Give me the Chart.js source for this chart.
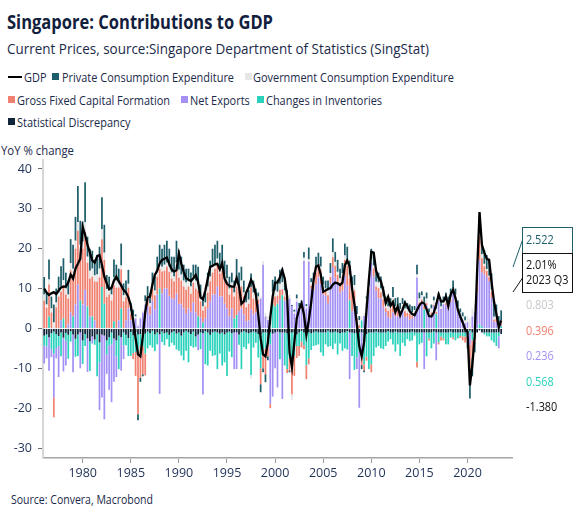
<!DOCTYPE html>
<html>
<head>
<meta charset="utf-8">
<title>Singapore: Contributions to GDP</title>
<script src="https://cdn.jsdelivr.net/npm/chart.js@4.4.1/dist/chart.umd.min.js"></script>
<style>
  html, body { margin: 0; padding: 0; background: #fff; }
  body { width: 580px; height: 519px; position: relative; overflow: hidden;
         font-family: "Open Sans", sans-serif; color: #1b2a4a; }
  .txt { position: absolute; white-space: nowrap; line-height: 1.2; font-size: 13.5px; transform-origin: 0 50%; }
  #title { font-weight: 700; color: #12203d; font-size: 19px; }
  #subtitle { font-size: 15px; }
  #source { font-size: 12px; }
  .sw { position: absolute; width: 7px; height: 7px; }
  .ln { position: absolute; width: 14px; height: 2px; background: #000; }
  #wrap { position: absolute; left: 0; top: 145px; width: 580px; height: 345px; }
</style>
</head>
<body>
<div id="title" class="txt">Singapore: Contributions to GDP</div>
<div id="subtitle" class="txt">Current Prices, source:Singapore Department of Statistics (SingStat)</div>
<div id="unit" class="txt">YoY % change</div>
<div id="source" class="txt">Source: Convera, Macrobond</div>
<div id="legend"></div>
<div id="wrap"><canvas id="chart" width="580" height="345"></canvas></div>

<script>
// quarterly data, 1976 Q1 .. 2023 Q3 (one line per year)
const firstYear = 1976;
const axisQuarters = 195;   // axis runs on to 2024 Q3
const yearTicks = ['1980', '1985', '1990', '1995', '2000', '2005', '2010', '2015', '2020'];
const yTickValues = [-30, -20, -10, 0, 10, 20, 30, 40];

const gdpGrowth = [
  10.0, 9.0, 8.4, 8.8,
  9.1, 8.6, 9.5, 10.3,
  10.5, 10.5, 11.5, 13.5,
  12.5, 15.0, 16.2, 17.5,
  25.5, 23.5, 21.0, 19.0,
  17.0, 16.5, 18.1, 18.4,
  16.0, 13.0, 11.3, 9.8,
  10.2, 12.0, 13.0, 11.8,
  10.8, 9.6, 9.0, 7.8,
  5.8, 2.0, -2.5, -6.5,
  -7.0, -2.0, 4.0, 7.8,
  8.0, 11.0, 13.4, 14.5,
  16.3, 17.2, 17.5, 17.8,
  16.2, 14.8, 14.3, 14.6,
  18.8, 16.3, 14.2, 12.6,
  12.2, 11.9, 12.6, 13.4,
  11.6, 7.8, 7.3, 9.5,
  12.5, 15.4, 15.7, 16.1,
  16.2, 14.8, 16.4, 12.5,
  11.2, 10.7, 10.5, 10.5,
  12.6, 10.5, 6.2, 6.8,
  9.0, 10.4, 12.2, 11.0,
  8.5, 3.5, -2.5, -6.5,
  -7.0, -3.5, 2.8, 8.0,
  11.5, 11.5, 12.8, 14.6,
  12.5, 8.0, -6.0, -9.7,
  -3.5, 2.5, 4.8, 6.3,
  3.5, -1.6, 2.0, 6.5,
  12.2, 15.5, 15.8, 13.5,
  9.2, 9.5, 9.9, 10.1,
  11.0, 11.5, 11.3, 10.9,
  11.5, 15.8, 17.0, 15.5,
  10.0, 6.0, 1.0, -4.5,
  -7.0, -3.5, 4.5, 12.3,
  19.2, 19.0, 14.5, 12.8,
  11.8, 9.5, 6.4, 7.9,
  5.7, 6.6, 4.1, 5.5,
  3.3, 4.7, 6.4, 5.6,
  4.3, 3.6, 3.3, 4.6,
  5.8, 6.5, 6.3, 4.8,
  3.1, 3.0, 4.0, 6.0,
  8.5, 6.8, 6.8, 8.0,
  5.6, 8.5, 9.7, 7.6,
  4.7, 3.0, 1.5, -0.2,
  -0.9, -14.3, -9.2, -2.0,
  14.5, 29.2, 21.0, 19.0,
  17.5, 17.2, 11.7, 6.8,
  3.7, 0.2, 2.01
];

const privateConsumption = [
  4.4, 3.0, 5.0, 3.0,
  4.5, 3.5, 4.0, 5.0,
  5.5, 4.0, 3.5, 6.0,
  6.0, 6.0, 9.0, 6.0,
  5.0, 10.0, 5.0, 5.5,
  4.5, 4.0, 5.0, 5.5,
  8.0, 7.0, 3.5, 3.0,
  2.0, 4.5, 4.0, 3.5,
  5.5, 3.0, 3.0, 3.5,
  2.0, 1.5, 0.5, -1.5,
  -1.0, -0.5, 1.5, 2.5,
  2.5, 3.0, 3.5, 4.0,
  4.5, 4.5, 5.0, 5.5,
  4.5, 4.0, 5.0, 5.5,
  5.0, 4.5, 4.0, 3.5,
  3.0, 3.5, 3.0, 4.0,
  4.5, 3.0, 2.5, 2.5,
  3.5, 4.0, 4.5, 5.0,
  4.5, 4.0, 5.0, 3.5,
  3.5, 3.0, 2.5, 3.0,
  5.5, 3.5, 3.5, 3.0,
  2.5, 2.5, 3.5, 3.0,
  2.0, 1.0, -2.0, -1.0,
  -2.0, -1.0, 2.0, 3.0,
  3.5, 3.0, 3.5, 3.5,
  2.5, 2.0, -0.5, 0.3,
  0.5, 1.0, 1.0, 1.5,
  1.5, 0.5, 3.0, 1.0,
  2.0, 3.0, 3.0, 2.5,
  2.0, 2.0, 2.5, 2.5,
  3.5, 2.5, 3.0, 2.5,
  2.5, 3.0, 3.5, 3.5,
  3.0, 2.5, 2.0, 1.0,
  -1.0, -0.5, 0.5, 1.5,
  2.5, 3.0, 3.0, 2.5,
  3.0, 2.5, 2.0, 2.5,
  2.0, 2.5, 2.0, 2.0,
  1.5, 1.5, 2.0, 1.5,
  1.5, 1.5, 1.0, 2.5,
  1.5, 1.0, 1.5, 1.5,
  1.0, 1.0, 1.0, 1.5,
  1.5, 1.5, 1.5, 2.0,
  1.5, 2.0, 2.0, 1.5,
  1.5, 1.0, 1.0, 1.0,
  -1.5, -7.5, -4.5, -2.5,
  1.0, 5.0, 3.0, 3.5,
  3.5, 4.0, 4.0, 3.5,
  3.0, 2.0, 2.522
];

const governmentConsumption = [
  1.5, 0.8, 1.3, 1.0,
  1.5, 1.2, 1.0, 1.4,
  1.2, 1.5, 1.0, 1.8,
  1.5, 2.0, 2.2, 2.0,
  1.8, 2.5, 1.5, 2.0,
  2.0, 1.5, 1.8, 2.2,
  2.5, 1.8, 2.0, 1.5,
  1.5, 2.0, 1.8, 1.2,
  1.0, 1.5, 1.2, 1.0,
  0.8, 0.6, 0.5, 0.5,
  0.4, 0.5, 0.8, 0.6,
  0.8, 1.0, 1.2, 1.0,
  1.5, 1.2, 1.5, 1.0,
  1.3, 1.5, 1.2, 1.8,
  2.0, 1.5, 1.5, 1.8,
  1.5, 1.8, 1.5, 2.0,
  1.5, 1.2, 1.0, 1.0,
  1.5, 1.2, 1.5, 1.0,
  1.5, 1.2, 1.5, 1.3,
  1.0, 1.5, 1.2, 1.0,
  1.5, 1.2, 1.5, 1.0,
  1.2, 1.0, -1.0, 1.5,
  1.0, 0.8, 0.5, 0.9,
  0.9, 1.0, 1.0, 1.2,
  1.5, 1.0, 1.5, 1.8,
  1.5, 1.2, 1.0, -1.5,
  0.5, 0.8, 1.0, 0.6,
  0.8, 0.6, 0.5, 0.9,
  0.8, 1.0, 0.7, 0.9,
  1.0, 0.8, 1.2, 1.0,
  1.2, 1.0, 0.8, 1.0,
  0.9, 1.1, 1.3, 1.0,
  1.2, 1.4, 1.0, 1.3,
  1.0, 0.8, 1.2, 1.0,
  1.0, 0.8, 1.2, 1.4,
  1.0, 0.7, 0.9, 1.1,
  0.6, 0.9, 1.0, 0.8,
  0.9, 0.8, 0.7, 1.0,
  0.8, 1.0, 0.9, 0.7,
  1.0, 1.1, 0.9, 1.2,
  0.9, 1.0, 1.1, 0.8,
  0.5, 0.6, 0.4, 0.7,
  0.6, 0.8, 0.5, 0.9,
  0.8, 0.6, 0.9, 0.7,
  1.5, 2.5, 2.0, 1.8,
  1.2, 0.9, 1.0, 0.6,
  0.5, 0.3, 0.6, 0.7,
  0.5, 0.6, 0.803
];

const grossFixedCapital = [
  7.0, 5.2, 8.0, 4.0,
  -5.0, 5.3, 8.0, 7.2,
  8.4, 8.5, 6.5, 10.6,
  10.5, 14.0, 13.5, 12.0,
  14.0, 14.5, 11.0, 9.5,
  10.0, 9.8, 11.7, 12.8,
  12.0, 11.0, 7.9, 8.5,
  7.0, 9.0, 10.2, 8.3,
  9.8, 6.8, 5.8, 5.2,
  1.6, -1.5, -6.0, -15.0,
  -8.0, -7.0, -5.5, 2.0,
  2.0, 3.0, 3.5, 4.5,
  5.0, 5.5, 4.5, 5.5,
  6.0, 5.0, 4.5, 6.0,
  6.5, 6.0, 5.5, 6.0,
  5.5, 4.5, 5.0, 6.0,
  6.5, 4.0, 3.0, 3.0,
  4.0, 5.0, 5.5, 6.5,
  5.5, 5.8, 6.5, 6.0,
  6.5, 5.5, 5.3, 5.5,
  7.0, 5.0, 5.5, 4.5,
  3.5, 4.2, 5.5, 4.0,
  3.0, 1.0, -4.0, -4.5,
  -6.5, -5.0, -1.0, 2.0,
  2.5, 2.0, 2.5, 1.5,
  1.0, -1.0, -3.0, -7.0,
  -5.0, -3.0, -2.5, -1.5,
  -1.0, -3.5, -1.5, 0.7,
  1.5, 3.0, 2.5, 3.5,
  1.5, 1.0, 2.0, 1.5,
  2.5, 3.0, 2.0, 2.5,
  3.5, 4.0, 5.0, 5.5,
  4.5, 3.0, 2.6, 0.8,
  -2.5, -1.5, -1.0, 0.5,
  -2.0, 2.0, 1.0, 2.5,
  1.5, 2.0, 1.0, 1.5,
  2.5, 3.0, 1.5, 2.0,
  1.0, 0.5, 1.5, 1.0,
  1.5, 0.5, 0.2, -1.5,
  0.5, 1.0, 0.8, 0.5,
  -0.5, 0.5, 0.3, 0.5,
  -0.5, -1.0, -0.5, 0.5,
  1.0, 0.5, -0.5, 1.0,
  0.5, -0.5, -1.0, -1.5,
  -1.5, -6.0, -4.5, -2.0,
  3.5, 6.0, 3.5, 2.0,
  1.5, 1.0, 1.5, 0.5,
  1.0, 0.5, 0.396
];

const netExports = [
  -4.5, -3.0, -8.4, -2.0,
  -11.0, -2.6, -7.8, 2.0,
  -8.5, -6.2, 1.0, 4.0,
  -9.5, 6.0, 11.0, -9.0,
  6.0, 9.7, -8.4, 3.0,
  -1.8, 2.0, 0.0, -12.0,
  -15.8, -21.0, -4.9, -11.2,
  -14.5, -10.9, -5.2, 2.0,
  -8.4, -3.5, 2.0, 5.0,
  2.0, 2.6, 2.5, 0.5,
  2.5, 4.0, 6.0, 5.5,
  3.5, 7.0, 4.8, 8.5,
  -14.9, 8.8, 10.0, 10.0,
  8.2, 7.5, 7.3, 8.7,
  6.2, 6.0, 5.0, 3.7,
  5.0, 4.2, 6.5, 4.0,
  -4.0, 2.8, -15.4, 2.5,
  5.0, 6.8, 8.5, 8.5,
  10.5, 8.0, 8.0, 6.2,
  5.0, 3.0, 5.0, -9.2,
  -9.2, 4.3, 5.0, 3.5,
  1.8, 2.0, 4.8, 3.5,
  4.0, 6.2, 7.5, 16.0,
  3.0, 2.1, -15.0, -15.8,
  -9.0, -14.0, 7.2, -16.7,
  7.0, 6.5, 7.5, 5.6,
  3.7, 6.7, 4.4, 4.9,
  16.9, 5.0, 16.8, 10.0,
  9.7, 11.0, 12.8, 11.1,
  8.5, 8.2, 6.3, 11.4,
  15.4, 12.7, 11.4, 9.0,
  9.5, 13.2, 10.7, -11.7,
  4.3, 6.5, -3.0, -14.0,
  -5.7, 3.1, 6.3, 9.2,
  16.5, 13.0, 9.5, 7.6,
  7.5, 5.3, 4.1, 2.9,
  2.5, 4.0, 3.1, 3.0,
  3.0, 4.8, 2.8, 2.9,
  2.2, 2.6, 3.5, 12.8,
  6.0, 6.2, -9.2, 5.8,
  3.1, 3.5, 5.6, -7.0,
  7.0, 4.9, 6.1, 5.8,
  4.9, 6.7, 9.5, 6.6,
  4.2, 3.4, 2.1, 1.3,
  1.6, -3.0, 3.0, 4.2,
  9.0, 16.1, 13.6, 13.6,
  12.9, 11.9, 7.7, 1.7,
  1.5, -3.0, 0.236
];

const inventoryChanges = [
  -2.5, -3.0, 3.0, -4.0,
  -5.5, -3.5, -2.5, -6.0,
  2.5, -2.0, -6.0, -2.6,
  3.0, -4.5, -5.4, 7.0,
  -5.9, -3.0, 5.5, -7.5,
  3.0, -1.3, -10.5, -5.0,
  10.4, 6.2, -3.5, -2.0,
  -3.0, 1.8, -4.0, -8.4,
  5.0, -3.2, -2.6, -4.5,
  -6.0, -4.5, -5.0, -5.0,
  -3.0, -3.5, -5.0, -4.2,
  -3.0, -4.2, -4.2, -3.0,
  10.0, -2.6, -3.0, -1.7,
  -3.0, -2.6, -3.5, -4.0,
  -4.6, -5.0, -7.0, -5.0,
  -7.5, -3.0, -4.0, -2.6,
  3.0, -4.2, 1.5, -8.3,
  -8.3, -4.0, -5.9, -5.9,
  -9.2, -5.0, -8.3, -7.0,
  -10.9, -5.0, -6.0, 2.5,
  3.4, -2.6, -9.2, -4.0,
  -4.2, -2.6, -10.7, -4.0,
  -2.6, -5.9, -8.5, -4.5,
  -4.0, -1.0, -3.0, 6.0,
  5.5, 6.2, -6.7, 8.3,
  -8.3, -9.0, -6.5, -8.5,
  -5.9, -2.9, -3.4, -2.7,
  -3.2, -8.2, -6.5, -4.2,
  -3.4, -3.4, -3.0, -5.0,
  -5.9, -3.0, -4.0, -3.4,
  -4.2, -3.0, -5.5, -2.6,
  -4.6, -4.0, -4.6, 7.0,
  -5.9, -9.2, -6.2, -4.9,
  2.0, -8.0, -5.7, -9.2,
  -8.0, -5.9, -4.0, -3.4,
  -4.0, -4.2, -3.4, -2.6,
  -1.7, -3.0, -5.0, -3.0,
  -5.9, -2.6, -3.4, -1.7,
  -2.2, -2.2, -0.8, -7.3,
  -3.0, -2.6, 4.8, -6.0,
  -1.5, -4.0, -3.0, 3.6,
  -2.5, -1.0, -1.5, -3.0,
  -3.0, -1.5, -1.2, -2.0,
  -1.5, -0.9, -1.0, -1.0,
  -1.0, -0.6, -2.0, -0.5,
  0.0, 1.0, 0.5, -0.5,
  -1.0, -1.0, -2.0, -2.5,
  -3.4, -1.0, 0.568
];

const statDiscrepancy = [
  -1.8, -1.5, -2.2, -1.2,
  -0.8, -1.4, -1.9, -1.0,
  -2.3, -1.1, -1.6, -0.7,
  -1.5, -2.6, -1.5, -1.0,
  -3.0, -1.4, -2.5, -3.2,
  -2.0, -2.8, -1.5, -3.5,
  -1.5, -1.8, -3.0, -2.2,
  -1.0, -2.5, -3.0, -1.8,
  -2.2, -1.0, -1.6, -2.4,
  -0.9, -1.7, -0.9, -1.5,
  -1.4, -1.0, -1.3, -0.8,
  -1.2, -0.6, -1.5, -1.0,
  -1.5, -0.8, -1.2, -1.0,
  -1.6, -1.0, -0.7, -1.3,
  -1.0, -1.8, -1.0, -0.6,
  -1.0, -1.4, -0.8, -2.0,
  -1.5, -1.0, -1.2, -0.7,
  -1.0, -1.6, -1.0, -0.8,
  -1.0, -1.3, -1.0, -1.5,
  -1.0, -0.8, -1.2, -1.0,
  -1.0, -1.5, -1.0, -0.7,
  -1.0, -1.2, -1.0, -0.8,
  -1.0, -1.4, -1.5, -1.0,
  -1.0, -1.0, -1.0, -1.3,
  -1.0, -0.8, -1.0, -1.0,
  -1.0, -1.2, -1.0, -1.0,
  -1.0, -1.5, -1.0, -0.6,
  -1.0, -1.0, -1.0, -1.2,
  -1.0, -0.8, -1.0, -1.0,
  -1.0, -1.0, -0.6, -1.0,
  -1.0, -0.8, -1.0, -1.2,
  -1.0, -1.0, -0.7, -1.0,
  -1.0, -1.2, -1.0, -1.0,
  -1.0, -1.0, -1.4, -1.0,
  -1.0, -1.0, -0.8, -1.0,
  -1.0, -1.0, -1.0, -0.7,
  -1.0, -1.0, -0.8, -1.0,
  -1.0, -1.0, -1.0, -1.0,
  -1.0, -0.8, -1.0, -1.0,
  -1.0, -1.0, -1.0, -1.0,
  -1.0, -1.0, -0.8, -1.0,
  -1.0, -1.0, -1.0, -1.0,
  -1.0, -0.8, -1.0, -1.0,
  -1.0, -1.0, -1.0, -1.0,
  -1.0, -0.5, -1.0, -1.0,
  -1.0, -0.5, -1.0, -1.0,
  -1.0, -1.0, -1.0, -1.0,
  -1.0, -1.0, -1.380
];

const seriesColors = {
  gdp: '#000000',
  pce: '#1d5e6a',
  gov: '#e6e6e6',
  gfcf: '#f0806f',
  nx: '#a591f5',
  inv: '#2ad2bc',
  sd: '#10253a'
};
const tickColor = '#1f3157';

// quarter categories for the x axis
const quarterLabels = [];
for (let i = 0; i < axisQuarters; i++) {
  quarterLabels.push((firstYear + Math.floor(i / 4)) + ' Q' + (i % 4 + 1));
}
function yearTickAt(index) {
  const lab = quarterLabels[index] || '';
  const yr = lab.slice(0, 4);
  return lab.endsWith('Q1') && yearTicks.includes(yr) ? yr : '';
}

// ---- HTML text: squeeze each block to the width it has in the original
function fitWidth(el, target) {
  const w = el.getBoundingClientRect().width;
  el.style.transform = 'scaleX(' + (target / w).toFixed(4) + ')';
}
function place(el, x, cy) {
  el.style.left = x + 'px';
  el.style.top = (cy - el.getBoundingClientRect().height / 2) + 'px';
}

const title = document.getElementById('title');
fitWidth(title, 266); place(title, 7, 22);
const subtitle = document.getElementById('subtitle');
fitWidth(subtitle, 422); place(subtitle, 7, 47.5);
const unit = document.getElementById('unit');
fitWidth(unit, 73); place(unit, 1, 150);
const source = document.getElementById('source');
fitWidth(source, 142); place(source, 11, 500.5);

const legendItems = [
  { name: 'GDP', key: 'gdp', mx: 8, tx: 24, cy: 77 },
  { name: 'Private Consumption Expenditure', key: 'pce', mx: 52, tx: 62, cy: 77 },
  { name: 'Government Consumption Expenditure', key: 'gov', mx: 245, tx: 253, cy: 77 },
  { name: 'Gross Fixed Capital Formation', key: 'gfcf', mx: 8, tx: 17, cy: 99.5 },
  { name: 'Net Exports', key: 'nx', mx: 181, tx: 190, cy: 99.5 },
  { name: 'Changes in Inventories', key: 'inv', mx: 257, tx: 266, cy: 99.5 },
  { name: 'Statistical Discrepancy', key: 'sd', mx: 8, tx: 17, cy: 122 }
];
const legendBox = document.getElementById('legend');
legendItems.forEach(item => {
  const mark = document.createElement('div');
  mark.className = item.key === 'gdp' ? 'ln' : 'sw';
  mark.style.background = seriesColors[item.key];
  mark.style.left = item.mx + 'px';
  mark.style.top = (item.cy - (item.key === 'gdp' ? 1.5 : 4)) + 'px';
  legendBox.appendChild(mark);
  const t = document.createElement('div');
  t.className = 'txt';
  t.textContent = item.name;
  legendBox.appendChild(t);
  item.el = t;
});
// one squeeze factor for the whole legend, taken from its longest entry in row 1
const legendScale = 172 / legendItems[1].el.getBoundingClientRect().width;
legendItems.forEach(item => {
  item.el.style.transform = 'scaleX(' + legendScale.toFixed(4) + ')';
  place(item.el, item.tx, item.cy + 0.5);
});

// ---- labels at the right end of the plot
function squeezedText(ctx, text, x, y) {
  ctx.save();
  ctx.translate(x, y);
  ctx.scale(0.84, 1);
  ctx.fillText(text, 0, 0);
  ctx.restore();
}
const endLabels = {
  id: 'endLabels',
  afterDraw(chart) {
    const { ctx, chartArea: a } = chart;
    const last = gdpGrowth.length - 1;
    const x0 = a.right + 10, bw = 50;
    ctx.save();
    ctx.font = '13px "Open Sans"';
    ctx.textBaseline = 'middle';
    ctx.textAlign = 'left';
    ctx.lineWidth = 1;

    ctx.strokeStyle = seriesColors.pce;
    ctx.strokeRect(x0 + 0.5, a.top + 67.5, bw, 26);
    ctx.beginPath(); ctx.moveTo(a.right + 1, a.top + 107); ctx.lineTo(x0 + 0.5, a.top + 80); ctx.stroke();
    ctx.fillStyle = seriesColors.pce;
    squeezedText(ctx, privateConsumption[last].toFixed(3), x0 + 4, a.top + 80.5);

    ctx.strokeStyle = '#111';
    ctx.strokeRect(x0 + 0.5, a.top + 93.5, bw, 39);
    ctx.beginPath(); ctx.moveTo(a.right + 1, a.top + 132); ctx.lineTo(x0 + 0.5, a.top + 118); ctx.stroke();
    ctx.fillStyle = '#111';
    squeezedText(ctx, gdpGrowth[last].toFixed(2) + '%', x0 + 4, a.top + 105.5);
    squeezedText(ctx, quarterLabels[last], x0 + 4, a.top + 120.5);

    const rest = [
      [governmentConsumption, '#c6c8cc'],
      [grossFixedCapital, seriesColors.gfcf],
      [netExports, seriesColors.nx],
      [inventoryChanges, seriesColors.inv],
      [statDiscrepancy, '#111']
    ];
    rest.forEach(([arr, col], i) => {
      ctx.fillStyle = col;
      squeezedText(ctx, arr[last].toFixed(3), x0 + 4, a.top + 145.5 + i * 25.5);
    });
    ctx.restore();
  }
};

// ---- chart
Chart.defaults.font.family = '"Open Sans", sans-serif';
const barSet = (label, data, color) => ({
  type: 'bar', label, data, backgroundColor: color, borderWidth: 0, stack: 'parts'
});

new Chart(document.getElementById('chart'), {
  type: 'bar',
  data: {
    labels: quarterLabels,
    datasets: [
      { type: 'line', label: 'GDP', data: gdpGrowth, borderColor: seriesColors.gdp,
        borderWidth: 2.3, pointRadius: 0, tension: 0, stack: 'gdp', fill: false },
      // stacked from the zero line outwards
      barSet('Statistical Discrepancy', statDiscrepancy, seriesColors.sd),
      barSet('Changes in Inventories', inventoryChanges, seriesColors.inv),
      barSet('Net Exports', netExports, seriesColors.nx),
      barSet('Gross Fixed Capital Formation', grossFixedCapital, seriesColors.gfcf),
      barSet('Government Consumption Expenditure', governmentConsumption, seriesColors.gov),
      barSet('Private Consumption Expenditure', privateConsumption, seriesColors.pce)
    ]
  },
  options: {
    responsive: false,
    animation: false,
    layout: { padding: { left: 0, right: 68, top: 15, bottom: 0 } },
    datasets: { bar: { barPercentage: 0.72, categoryPercentage: 1.0 } },
    plugins: { legend: { display: false }, tooltip: { enabled: false }, title: { display: false } },
    scales: {
      x: {
        stacked: true,
        offset: true,
        afterFit(s) { s.height = 32; },
        border: { display: true, color: '#a4a4a4', width: 1.5 },
        grid: {
          offset: false, drawOnChartArea: false, drawTicks: true, tickLength: 5,
          color: c => yearTickAt(c.index) ? '#9a9a9a' : 'rgba(0,0,0,0)'
        },
        ticks: {
          autoSkip: false, maxRotation: 0, minRotation: 0, padding: 3,
          color: tickColor, font: { size: 12.5 },
          callback: (v, i) => yearTickAt(i)
        }
      },
      y: {
        stacked: true,
        min: -32.5,
        max: 42.25,
        afterFit(s) { s.width = 43; },
        afterBuildTicks(s) { s.ticks = yTickValues.map(v => ({ value: v })); },
        border: { display: true, color: '#d6d6d6', width: 2 },
        grid: { drawOnChartArea: false, drawTicks: true, tickLength: 5, tickColor: '#6a6a6a' },
        ticks: { padding: 6, color: tickColor, font: { size: 12.5 } }
      }
    }
  },
  plugins: [endLabels]
});
</script>
</body>
</html>
